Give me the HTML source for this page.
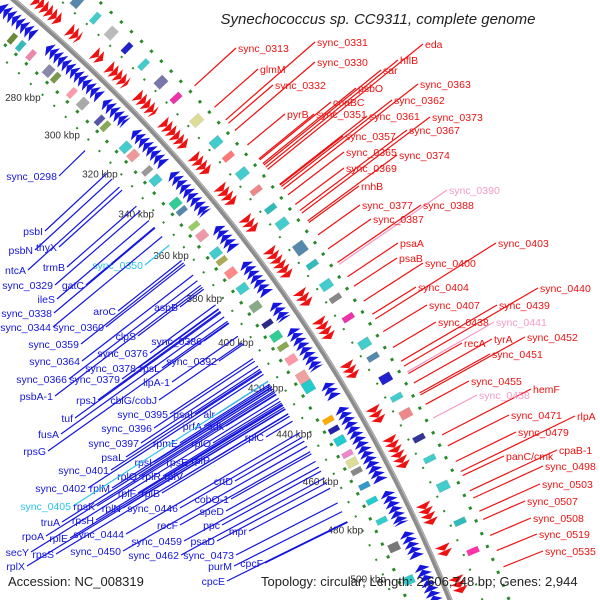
<!DOCTYPE html>
<html><head><meta charset="utf-8">
<style>
html,body{margin:0;padding:0;background:#fff;width:600px;height:600px;overflow:hidden;}
svg{display:block;font-family:"Liberation Sans","DejaVu Sans",sans-serif;overflow:hidden;}
</style></head>
<body>
<svg id="map" width="600" height="600" viewBox="0 0 600 600" xmlns="http://www.w3.org/2000/svg">
<rect width="600" height="600" fill="#fff"/>
<g id="tracks"></g>
<g id="labels"></g>
<text x="378" y="24" text-anchor="middle" font-size="15" font-style="italic" fill="#222">Synechococcus sp. CC9311, complete genome</text>
<text x="8" y="586" font-size="13" fill="#222">Accession: NC_008319</text>
<text x="261" y="586" font-size="13" fill="#222">Topology: circular; Length: 2,606,748 bp; Genes: 2,944</text>
</svg>
<script>
// ---- data ----
const tickKbp = [260,280,300,320,340,360,380,400,420,440,460,480,500,520];
const blueRuns = [[252,268],[274,300],[302,313],[317,333],[337,356],[362,372],[378,392],[396,403],[407,424],[430,436],[440,470],[474,487],[490,500],[503,522]];
const redRuns = [[260,272],[276,281],[288,292],[295,304],[309,318],[322,334],[338,346],[352,360],[366,372],[380,392],[398,404],[410,418],[428,434],[446,452],[458,470],[484,492],[500,504],[512,518]];
const innerBoxKbp = [262,266,271,279,283,291,296,305,308,318,322,330,334,345,349,356,360,368,372,377,384,392,400,405,410,415,422,426,441,445,449,455,458,462,468,474,482,492,505];
const innerBoxLen = [2,2,2,3,2,2,3,2,2,3,3,2,3,3,2,2,3,3,2,3,3,3,2,3,2,3,6,4,2,2,3,2,3,2,2,2,2,3,3];
const innerBoxCol = ["#6a8a3a","#3bb","#e8a","#88a","#7a9a4a","#f9a","#aaa","#55a","#8a5","#4cc","#e99","#999","#4cc","#3c9","#58a","#9c6","#e9a","#4cc","#aa5","#f88","#4cc","#8a8","#2a2a8a","#3c9","#8a5","#f9a","#f0a0a0","#2cc","#fa0","#22a","#2cc","#e8c","#dd9","#888","#39c","#2cc","#3cc","#777","#3cc"];
const outerBoxKbp = [252,262,270,279,286,294,302,310,318,328,338,345,352,360,368,374,384,392,400,406,414,424,430,438,446,452,462,470,480,494,505];
const outerBoxLen = [2,3,3,2,3,2,2,3,2,3,3,2,3,2,2,3,4,2,3,2,2,3,2,3,2,3,2,2,3,2,2];
const outerBoxCol = ["#f80","#aaa","#58a","#4cc","#bbb","#22c","#4cc","#77a","#e3a","#dd9","#4cc","#f77","#4cc","#e88","#3bb","#4cc","#58a","#3bb","#4cc","#888","#e3a","#4cc","#58a","#22c","#4cc","#e88","#339","#4cc","#4cc","#3bb","#f3a"];
const redNames = ["sync_0313","sync_0331","sync_0330","glmM","eda","hflB","sar","sync_0332","psbO","sync_0363","coaBC","pyrB","sync_0351","sync_0362","sync_0361","sync_0373","sync_0367","sync_0357","sync_0365","sync_0374","sync_0369","rnhB","sync_0390","sync_0377","sync_0388","sync_0387","psaA","sync_0403","psaB","sync_0400","sync_0440","sync_0404","sync_0439","sync_0407","sync_0438","sync_0441","recA","tyrA","sync_0452","sync_0451","sync_0455","hemF","sync_0458","sync_0471","rlpA","sync_0479","cpaB-1","panC/cmk","sync_0498","sync_0503","sync_0507","sync_0508","sync_0519","sync_0535"];
const redX = [238,317,317,260,425,400,383,275,358,420,333,287,316,394,369,432,409,345,346,399,346,361,449,362,423,373,400,498,399,425,540,418,499,429,438,496,464,494,527,492,471,533,479,511,577,518,559,506,545,542,527,533,539,545];
const redY = [52,46,66,73,48,64,74,89,92,88,106,118,118,104,120,121,134,140,156,159,172,190,194,209,209,223,247,247,262,267,292,291,309,309,326,326,347,343,341,358,385,393,399,419,420,436,454,460,470,488,505,522,538,555];
const blueNames = ["sync_0298","psbI","psbN","thyX","ntcA","trmB","sync_0329","gatC","sync_0350","ileS","sync_0338","aroC","aspB","sync_0344","sync_0360","sync_0359","clpS","sync_0386","sync_0376","sync_0364","sync_0378","rpsL","sync_0392","sync_0366","sync_0379","lipA-1","psbA-1","rpsJ","cbiG/cobJ","sync_0395","psaI","alr","tuf","sync_0396","prfA","adk","rplC","fusA","sync_0397","rpmE","rplO","rpsG","psaL","rpsI","rpsE","rplP","sync_0401","rplQ","rplR","rplV","sync_0402","rplM","crtD","rplF","rplB","cobO-1","sync_0405","rpsK","rplN","sync_0446","speD","truA","rpsH","recF","ppc","rpoA","rplE","sync_0444","sync_0459","psaD","mpr","secY","rpsS","sync_0450","sync_0462","sync_0473","rplX","purM","cpcF","cpcE"];
const blueEndX = [57,43,33,57,26,65,53,84,143,55,52,116,178,51,104,79,136,202,148,80,136,160,217,67,120,170,53,96,157,168,193,215,73,152,202,224,264,59,139,178,211,46,124,152,188,210,109,137,161,183,86,110,233,136,160,229,71,95,121,178,224,60,94,178,220,44,68,124,182,215,247,29,54,121,179,234,25,232,263,225];
const blueY = [180,235,254,251,274,271,289,289,269,303,317,315,311,331,331,348,340,345,357,365,372,372,365,383,383,386,400,404,404,418,418,418,422,432,430,430,441,438,447,447,447,455,461,466,466,464,474,480,480,480,492,492,485,497,497,503,510,510,512,512,515,526,524,529,529,540,542,538,545,545,535,556,558,555,559,559,570,570,567,585];
const pinkRed = ["sync_0390","sync_0441","sync_0458"];
const cyanBlue = ["sync_0350","sync_0405"];

// ---- geometry ----
const CX=-962, CY=1168, R=1522;
const NS="http://www.w3.org/2000/svg";
const tracks=document.getElementById('tracks');
const labelsG=document.getElementById('labels');
function ang(k){return (-47.4+(k-280)*0.1068)*Math.PI/180;}
function pt(k,r){const a=ang(k);return [CX+r*Math.cos(a),CY+r*Math.sin(a)];}
function mk(tag,attrs,parent){const e=document.createElementNS(NS,tag);for(const k in attrs)e.setAttribute(k,attrs[k]);parent.appendChild(e);return e;}
function poly(pts){return pts.map(p=>p[0].toFixed(1)+','+p[1].toFixed(1)).join(' ');}

// dotted green tracks
[[R+55,"3 11"],[R-40,"3 11"],[R+30,"2 14"],[R-52,"2 14"]].forEach((d,i)=>{
  const c=mk('circle',{cx:CX,cy:CY,r:d[0],fill:'none',stroke:'#2a8a2a','stroke-width':i<2?3:2,'stroke-dasharray':d[1]},tracks);
  
  
});
// backbone
const bb=mk('circle',{cx:CX,cy:CY,r:R,fill:'none',stroke:'#8c8c8c','stroke-width':5},tracks);


mk('circle',{cx:CX,cy:CY,r:R+1.5,fill:'none',stroke:'#bbb','stroke-width':1},tracks);

// gene runs as saw-tooth arrows
function drawRuns(runs,r1,r2,color,dir,name){
  runs.forEach(run=>{
    for(let k=run[0];k<run[1];k+=2){
      const e=Math.min(k+2,run[1]);
      const tip = dir<0? k : e, back = dir<0? e : k;
      const p=mk('polygon',{points:poly([pt(back,r1),pt(back,r2),pt(tip,(r1+r2)/2)]),fill:color},tracks);
      
      
    }
  });
}
drawRuns(blueRuns,R-6,R-22,'#1515e0',-1,'reverse-strand-gene');
drawRuns(redRuns,R+6,R+22,'#ee1111',1,'forward-strand-gene');

// feature boxes
function drawBoxes(ks,ls,cs,r1,r2,name){
  ks.forEach((k,i)=>{
    const l=ls[i];
    const b=mk('polygon',{points:poly([pt(k,r1),pt(k+l,r1),pt(k+l,r2),pt(k,r2)]),fill:cs[i],stroke:'rgba(0,0,0,0.15)','stroke-width':0.5},tracks);
    
    
  });
}
drawBoxes(innerBoxKbp,innerBoxLen,innerBoxCol,R-25,R-36,'inner-feature-box');
drawBoxes(outerBoxKbp,outerBoxLen,outerBoxCol,R+34,R+46,'outer-feature-box');

// ticks
tickKbp.forEach(k=>{
  const p=pt(k,1455);
  const t=mk('text',{x:p[0].toFixed(1),y:(p[1]+4).toFixed(1),'text-anchor':'middle','font-size':10,fill:'#333'},tracks);
  t.textContent=k+' kbp';
  
  
});

// labels
function anchorFor(x,y,r){const dx=x-CX,dy=y-CY,d=Math.hypot(dx,dy);return [CX+dx/d*r,CY+dy/d*r];}
redNames.forEach((n,i)=>{
  const col=pinkRed.includes(n)?'#f49ac8':'#ee1111';
  const x=redX[i],y=redY[i];
  const a=anchorFor(x-3,y-4,R+62);
  const l=mk('line',{x1:a[0].toFixed(1),y1:a[1].toFixed(1),x2:x-2,y2:y-4,stroke:col,'stroke-width':1.2},labelsG);
  
  
  const t=mk('text',{x:x,y:y,'font-size':10.5,fill:col},labelsG);
  t.textContent=n;
  
  
});
blueNames.forEach((n,i)=>{
  const col=cyanBlue.includes(n)?'#2cc4ee':'#1515e0';
  const x=blueEndX[i],y=blueY[i];
  const a=anchorFor(x+2,y-4,R-62);
  const l=mk('line',{x1:x+2,y1:y-4,x2:a[0].toFixed(1),y2:a[1].toFixed(1),stroke:col,'stroke-width':1.2},labelsG);
  
  
  const t=mk('text',{x:x,y:y,'font-size':10.5,fill:col,'text-anchor':'end'},labelsG);
  t.textContent=n;
  
  
});
</script>
</body></html>
